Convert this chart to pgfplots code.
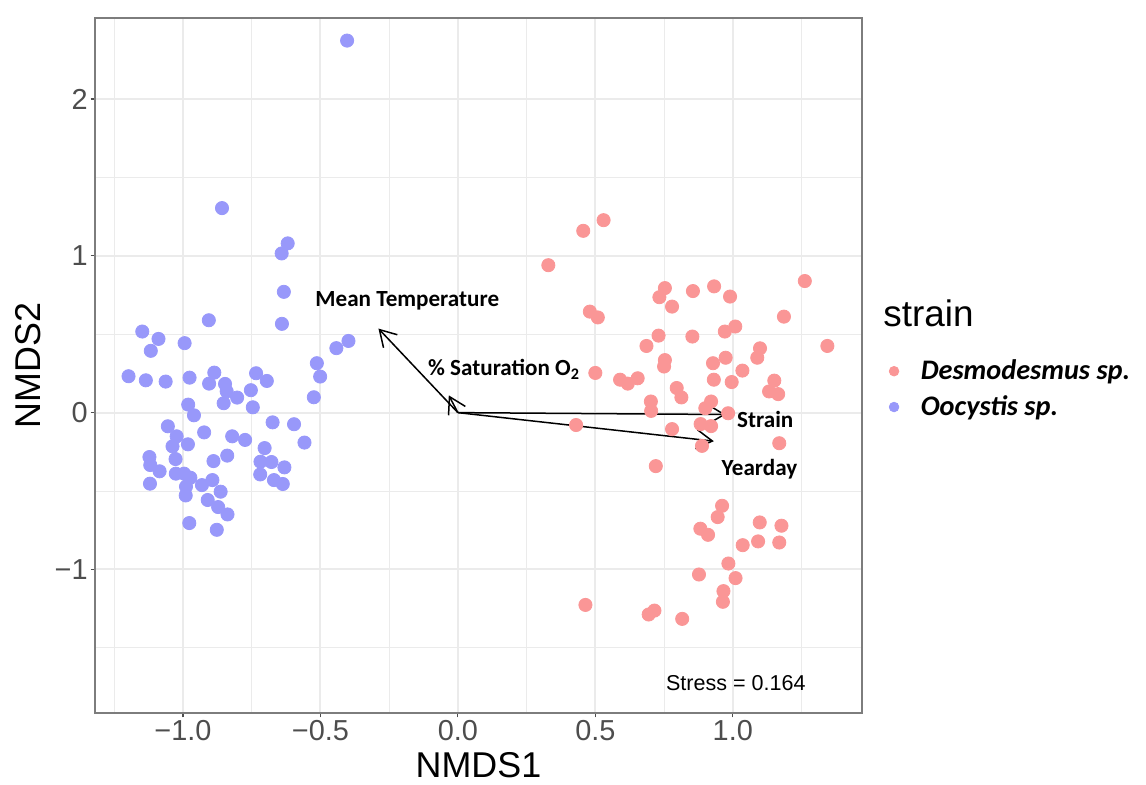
\documentclass[border=0pt]{standalone}
\usepackage{fontspec}
\setmainfont{Liberation Sans}
\newfontfamily\carlito{Carlito}
\usepackage{pgfplots}
\pgfplotsset{compat=1.18}
\usetikzlibrary{arrows.meta}

\definecolor{desmo}{RGB}{250,150,150}
\definecolor{oocy}{RGB}{152,152,250}
\definecolor{gridc}{RGB}{235,235,235}
\definecolor{framec}{RGB}{125,125,125}
\definecolor{tickc}{RGB}{77,77,77}

% NMDS site scores, one table per strain
\pgfplotstableread{
x y
0.530 1.227
0.456 1.159
0.329 0.940
1.262 0.839
0.753 0.794
0.733 0.736
0.779 0.676
0.855 0.775
0.932 0.805
0.990 0.740
1.186 0.612
0.480 0.644
0.509 0.607
0.730 0.491
0.853 0.485
0.971 0.517
1.009 0.549
1.344 0.425
0.686 0.425
1.099 0.410
1.089 0.350
0.753 0.335
0.750 0.294
0.974 0.350
0.928 0.315
1.035 0.268
0.500 0.253
0.590 0.210
0.618 0.185
0.654 0.219
0.931 0.210
0.996 0.195
1.151 0.204
1.132 0.135
1.165 0.118
0.796 0.157
0.813 0.097
0.702 0.071
0.703 0.011
0.921 0.071
0.900 0.028
0.983 -0.004
0.430 -0.079
0.779 -0.105
0.883 -0.073
0.921 -0.086
0.888 -0.212
1.169 -0.195
0.720 -0.341
0.961 -0.594
0.945 -0.666
0.882 -0.740
0.910 -0.779
1.098 -0.700
1.177 -0.721
1.036 -0.845
1.092 -0.821
1.169 -0.828
0.984 -0.962
0.877 -1.032
1.010 -1.055
0.966 -1.138
0.964 -1.206
0.464 -1.226
0.694 -1.287
0.715 -1.262
0.816 -1.315
}\desmodesmus

\pgfplotstableread{
x y
-0.858 1.304
-0.619 1.079
-0.641 1.015
-0.633 0.770
-0.906 0.589
-0.640 0.566
-1.148 0.517
-1.089 0.470
-1.117 0.394
-0.994 0.443
-0.398 0.457
-0.442 0.411
-0.513 0.315
-0.501 0.230
-0.524 0.098
-1.198 0.232
-1.135 0.206
-1.063 0.198
-0.976 0.223
-0.886 0.255
-0.905 0.185
-0.847 0.183
-0.841 0.136
-0.803 0.096
-0.852 0.060
-0.734 0.251
-0.695 0.202
-0.753 0.143
-0.746 0.034
-0.981 0.051
-0.960 -0.017
-0.674 -0.062
-0.596 -0.074
-0.558 -0.191
-1.055 -0.087
-1.023 -0.151
-1.038 -0.215
-0.982 -0.202
-0.923 -0.126
-0.821 -0.151
-0.774 -0.174
-0.703 -0.226
-0.839 -0.274
-0.889 -0.309
-1.027 -0.296
-1.122 -0.283
-1.119 -0.334
-1.085 -0.374
-1.026 -0.389
-0.996 -0.389
-0.973 -0.415
-0.989 -0.472
-0.990 -0.528
-1.120 -0.453
-0.931 -0.462
-0.893 -0.430
-0.863 -0.504
-0.910 -0.557
-0.872 -0.602
-0.838 -0.649
-0.977 -0.704
-0.877 -0.747
-0.718 -0.313
-0.678 -0.315
-0.631 -0.349
-0.719 -0.394
-0.669 -0.430
-0.637 -0.455
-0.403 2.372
}\oocystis

\begin{document}
\begin{tikzpicture}
\useasboundingbox (-47.5bp,-36bp) rectangle (525.5bp,356.5bp);
\begin{axis}[
  at={(0,0)}, anchor=south west,
  width=383.5bp, height=347.5bp, scale only axis,
  xmin=-1.32, xmax=1.47, ymin=-1.915, ymax=2.516,
  clip=false,
  xtick={-1,-0.5,0,0.5,1}, xticklabels={−1.0,−0.5,0.0,0.5,1.0},
  ytick={-1,0,1,2}, yticklabels={−1,0,1,2},
  minor xtick={-1.25,-0.75,-0.25,0.25,0.75,1.25},
  minor ytick={-1.5,-0.5,0.5,1.5},
  grid=both,
  major grid style={gridc, line width=1bp},
  minor grid style={gridc, line width=0.5bp},
  axis line style={framec, line width=0.7bp},
  tick pos=left, tick align=outside,
  major tick length=2.2bp, minor tick length=0pt,
  tick style={tickc, line width=0.6bp},
  tick label style={font=\fontsize{14.5}{14.5}\selectfont, text=tickc, inner sep=1.3bp},
  xlabel={NMDS1}, ylabel={NMDS2},
  xlabel style={font=\fontsize{18}{18}\selectfont, at={(axis description cs:0.5,-0.0748)}, anchor=center},
  ylabel style={font=\fontsize{18}{18}\selectfont, at={(axis description cs:-0.0874,0.5)}, anchor=center},
  legend style={at={(axis description cs:1.035,0.466)}, anchor=west,
    draw=none, fill=none, inner sep=0pt, row sep=2.5bp,
    font=\carlito\bfseries\itshape\fontsize{14.2}{14.2}\selectfont,
    /tikz/every odd column/.append style={column sep=9bp}},
  legend cell align=left,
  legend image post style={mark size=2.4bp},
]
\addplot[only marks, mark=*, mark size=3.3bp, color=desmo]
  table[x=x, y=y] {\desmodesmus};
\addlegendentry{Desmodesmus sp.}
\addplot[only marks, mark=*, mark size=3.3bp, color=oocy]
  table[x=x, y=y] {\oocystis};
\addlegendentry{Oocystis sp.}

% environmental fit vectors
\addplot[forget plot, black, line width=0.75bp, -{Straight Barb[length=8bp, width=9.5bp]}]
  coordinates {(0,0) (-0.289,0.536)};
\addplot[forget plot, black, line width=0.75bp, -{Straight Barb[length=8bp, width=9.5bp]}]
  coordinates {(0,0) (-0.033,0.110)};
\addplot[forget plot, black, line width=0.75bp, -{Straight Barb[length=8bp, width=9.5bp]}]
  coordinates {(0,0) (0.974,-0.012)};
\addplot[forget plot, black, line width=0.75bp, -{Straight Barb[length=8bp, width=9.5bp]}]
  coordinates {(0,0) (0.931,-0.182)};

\node[font=\carlito\bfseries\fontsize{11.6}{11.6}\selectfont] at (axis cs:-0.184,0.710) {Mean Temperature};
\node[font=\carlito\bfseries\fontsize{11.6}{11.6}\selectfont] at (axis cs:0.168,0.275) {\% Saturation O\textsubscript{2}};
\node[font=\carlito\bfseries\fontsize{11.6}{11.6}\selectfont] at (axis cs:1.118,-0.043) {Strain};
\node[font=\carlito\bfseries\fontsize{11.6}{11.6}\selectfont] at (axis cs:1.097,-0.363) {Yearday};
\node[font=\fontsize{10.8}{10.8}\selectfont] at (axis cs:1.011,-1.722) {Stress = 0.164};

\node[anchor=base west, inner sep=0pt, font=\fontsize{18.5}{18.5}\selectfont]
  at (axis description cs:1.0274,0.5554) {strain};
\end{axis}
\end{tikzpicture}
\end{document}
